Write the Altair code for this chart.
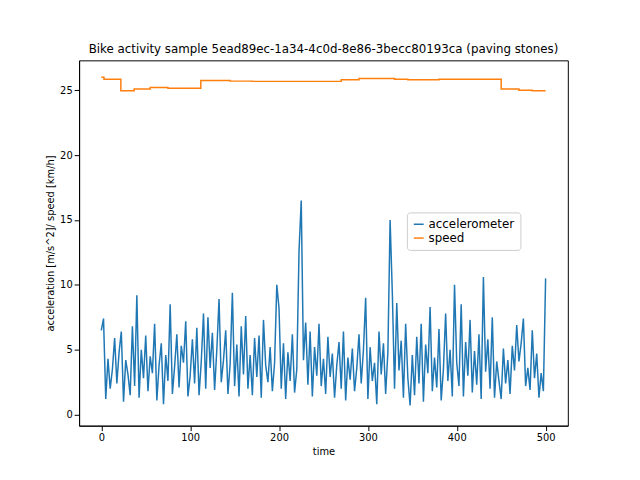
import altair as alt
import pandas as pd

acc_values = [
 6.5,7.4,1.2,4.3,2.0,3.5,5.9,2.4,4.8,6.4,1.0,4.2,3.1,1.5,6.8,2.2,9.2,1.3,5.0,2.8,
 6.1,1.8,4.5,3.2,7.0,1.1,3.8,5.5,0.8,4.6,2.6,8.5,1.6,3.7,6.2,2.1,5.3,4.0,7.2,1.4,
 3.0,5.8,2.4,6.7,1.5,4.1,7.8,2.0,7.5,3.6,6.3,1.9,5.0,8.9,2.5,4.2,6.5,1.6,3.9,9.4,
 2.2,5.4,1.4,6.8,3.1,7.6,2.0,4.6,1.5,5.9,2.9,6.1,1.3,7.3,3.8,2.5,5.2,1.8,4.0,10.0,
 8.2,2.0,5.5,1.2,4.8,2.6,6.2,1.7,3.5,12.6,16.5,4.2,7.1,2.3,6.4,1.4,5.2,3.0,7.0,2.2,
 4.3,1.6,6.0,2.9,4.7,1.3,3.8,5.6,2.0,6.4,1.1,4.4,2.7,5.1,1.8,3.6,6.2,2.4,5.0,9.0,
 1.2,5.2,2.6,4.0,0.8,6.4,3.1,5.5,1.6,4.8,15.0,9.4,2.0,8.6,3.4,5.7,1.3,7.0,2.8,0.7,
 4.6,1.5,6.0,2.4,7.0,1.0,5.4,3.2,8.3,1.8,4.4,2.1,6.6,1.1,3.5,7.8,2.6,5.0,1.4,10.0,
 4.0,2.2,8.5,1.4,5.6,3.0,7.3,1.7,4.9,2.3,6.2,1.2,10.6,3.3,5.8,2.0,7.5,1.3,4.1,2.6,
 1.2,5.1,2.4,4.2,1.6,5.3,3.4,6.9,4.1,5.5,7.4,2.2,3.6,1.9,6.5,2.8,4.7,1.3,3.2,1.8,10.5,
]
acc_times = [i * 2.5 for i in range(len(acc_values))]

speed_times = [0, 3, 22, 37, 55, 75, 112, 145, 170, 270, 290, 330, 345, 380, 450, 470, 485, 500]
speed_values = [26.0, 25.85, 24.95, 25.1, 25.2, 25.15, 25.75, 25.7, 25.68, 25.8, 25.9, 25.85,
                25.8, 25.85, 25.1, 25.0, 24.95, 24.95]

acc_df = pd.DataFrame({"time": acc_times, "value": acc_values, "series": "accelerometer"})
spd_df = pd.DataFrame({"time": speed_times, "value": speed_values, "series": "speed"})

x = alt.X("time:Q", title="time", scale=alt.Scale(domain=[-25, 525], nice=False, zero=False),
          axis=alt.Axis(values=[0, 100, 200, 300, 400, 500], grid=False))
y = alt.Y("value:Q", title="acceleration [m/s^2]/ speed [km/h]",
          scale=alt.Scale(domain=[-0.85, 27.3], nice=False),
          axis=alt.Axis(values=[0, 5, 10, 15, 20, 25], grid=False))
color = alt.Color("series:N", scale=alt.Scale(domain=["accelerometer", "speed"],
                                              range=["#1f77b4", "#ff7f0e"]),
                  legend=alt.Legend(title=None, orient="none", legendX=332, legendY=154,
                                    symbolType="stroke", symbolStrokeWidth=1.5,
                                    labelFontSize=12, strokeColor="#cccccc",
                                    fillColor="white", padding=6, cornerRadius=3))

acc = alt.Chart(acc_df).mark_line(strokeWidth=1.5).encode(x=x, y=y, color=color)
spd = alt.Chart(spd_df).mark_line(strokeWidth=1.5, interpolate="step-after").encode(x=x, y=y, color=color)

chart = alt.layer(acc, spd).properties(
    width=495, height=370,
    title=alt.TitleParams("Bike activity sample 5ead89ec-1a34-4c0d-8e86-3becc80193ca (paving stones)",
                          fontSize=12, fontWeight="normal", font="DejaVu Sans"),
    autosize=alt.AutoSizeParams(type="none"),
    padding={"left": 72, "top": 50, "right": 65, "bottom": 52},
).configure_axis(
    labelFont="DejaVu Sans", titleFont="DejaVu Sans", labelFontSize=10, titleFontSize=10,
    titleFontWeight="normal", domainColor="black", tickColor="black", labelColor="black",
).configure_legend(labelFont="DejaVu Sans").configure_view(stroke="black")

chart.save("out.html", embed_options={"renderer": "svg", "actions": False})
